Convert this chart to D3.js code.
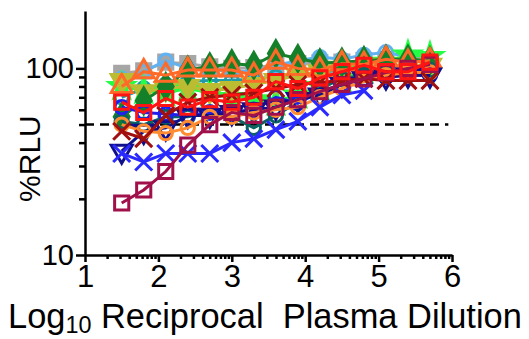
<!DOCTYPE html>
<html>
<head>
<meta charset="utf-8">
<script src="https://cdn.jsdelivr.net/npm/d3@7"></script>
<style>
  html, body { margin: 0; padding: 0; background: #fff; }
  svg { display: block; font-family: "Liberation Sans", Arial, Helvetica, sans-serif; }
</style>
</head>
<body>
<div id="chart"></div>
<script>
// log10 reciprocal plasma dilution (2-fold steps)
const logDilution = [1.5, 1.8, 2.1, 2.4, 2.7, 3.0, 3.3, 3.6, 3.9, 4.2, 4.5, 4.8, 5.1, 5.4, 5.7];

// %RLU per sample
const grayValues      = [94, 97, 108, 106, 102, 100, 101, 104, 106, 107, 108, 110, 112, 110, 108];
const lightBlueValues = [88, 96, 110, 100, 98, 97, 96, 104, 110, 115, 112, 118, 122, 115, 112];
const tealValues      = [70, 78, 82, 85, 86, 86, 88, 90, 92, 95, 98, 100, 102, 100, 104];
const greenValues     = [80, 76, 74, 78, 74, 70, 68, 66, 72, 80, 88, 98, 108, 118, 116];
const oliveValues     = [86, 75, 78, 80, 76, 78, 82, 86, 92, 96, 100, 100, 104, 104, 104];
const darkGreenValues = [55, 67, 80, 98, 102, 106, 104, 120, 113, 107, 108, 110, 112, 112, 110];
const orangeValues    = [80, 96, 92, 98, 98, 98, 92, 108, 100, 98, 106, 105, 112, 108, 110];
const darkTealValues  = [52, 50, 55, 55, 58, 55, 48, 56, 66, 78, 88, 92, 95, 95, 98];
const blueValues      = [62, 58, 57, 56, 58, 58, 60, 70, 65, 75, 82, 88, 90, 92, 92];
const navyValues      = [36, 46, 48, 56, 56, 58, 60, 62, 68, 72, 82, 88, 90, 92, 92];
const lightOrangeValues = [50, 46, 45, 48, 55, 55, 58, 60, 62, 70, 78, 85, 92, 95, 95];
const darkRedValues   = [46, 42, 56, 66, 70, 72, 74, 78, 82, 84, 86, 88, 86, 86, 86];
const blueXValues     = [35, 31.5, 35, 35, 35, 40, 42, 47, 52, 62, 72, 76];
const maroonValues    = [19, 22.3, 28, 38.8, 50, 58, 56, 62, 68, 75, 82, 88, 95, 100, 105];
const redValues       = [66, 58, 69, 62, 68, 66, 70, 85, 78, 89, 96, 104, 96, 96, 108];

const xTicks = [1, 2, 3, 4, 5, 6];
const yTicks = [10, 100];
const cutoff = 50;

const series = [
    { color: "#a6a6a6", marker: "square", filled: true, values: grayValues },
    { color: "#62b2f2", marker: "circle", filled: false, values: lightBlueValues },
    { color: "#1e9aaa", marker: "circle", filled: false, values: tealValues },
    { color: "#22ff44", marker: "star", filled: true, values: greenValues },
    { color: "#bcbc32", marker: "triDown", filled: true, values: oliveValues },
    { color: "#15802a", marker: "diamond", filled: true, values: darkGreenValues },
    { color: "#ff6a28", marker: "triUp", filled: false, values: orangeValues },
    { color: "#0b6262", marker: "circle", filled: false, values: darkTealValues },
    { color: "#2020ee", marker: "circle", filled: false, values: blueValues },
    { color: "#10108c", marker: "triDown", filled: false, values: navyValues },
    { color: "#ff8c30", marker: "circle", filled: false, values: lightOrangeValues },
    { color: "#a01010", marker: "x", filled: false, values: darkRedValues },
    { color: "#2a2aff", marker: "x", filled: false, values: blueXValues },
    { color: "#a0104a", marker: "square", filled: false, values: maroonValues },
    { color: "#ff1414", marker: "square", filled: false, values: redValues }
];

const width = 529, height = 339;
const margin = { top: 11, right: 77, bottom: 84, left: 85 };

const svg = d3.select("#chart").append("svg")
    .attr("width", width)
    .attr("height", height);

const x = d3.scaleLinear().domain([1, 6]).range([margin.left, width - margin.right]);
const y = d3.scaleLog().domain([10, 203]).range([height - margin.bottom, margin.top]);

// axes
const xMinor = [];
for (let d = 1; d < 6; d++) {
    for (let k = 2; k <= 9; k++) xMinor.push(d + Math.log10(k));
}
const yMinor = [20, 30, 40, 50, 60, 70, 80, 90];

const xAxisG = svg.append("g")
    .attr("transform", `translate(0,${y(10)})`);
xAxisG.call(d3.axisBottom(x).tickValues(xMinor).tickSize(4).tickFormat(""));
xAxisG.call(g => g.selectAll(".domain").remove());
const xMajor = svg.append("g")
    .attr("transform", `translate(0,${y(10)})`)
    .call(d3.axisBottom(x).tickValues(xTicks).tickSize(7).tickSizeOuter(0).tickPadding(3).tickFormat(d3.format("d")));

const yAxisG = svg.append("g")
    .attr("transform", `translate(${x(1)},0)`);
yAxisG.call(d3.axisLeft(y).tickValues(yMinor).tickSize(6).tickFormat(""));
yAxisG.call(g => g.selectAll(".domain").remove());
const yMajor = svg.append("g")
    .attr("transform", `translate(${x(1)},0)`)
    .call(d3.axisLeft(y).tickValues(yTicks).tickSize(9).tickSizeOuter(0).tickPadding(2).tickFormat(d3.format("d")));

svg.selectAll(".domain, .tick line")
    .attr("stroke", "#000")
    .attr("stroke-width", 2.5);
xMajor.selectAll("text").attr("font-size", 31).attr("fill", "#000");
yMajor.selectAll("text").attr("font-size", 29).attr("fill", "#000");

// 50% cutoff
svg.append("line")
    .attr("x1", x(1)).attr("x2", x(5.95))
    .attr("y1", y(cutoff)).attr("y2", y(cutoff))
    .attr("stroke", "#000")
    .attr("stroke-width", 2.5)
    .attr("stroke-dasharray", "9,6");

// series
const line = d3.line()
    .x((d, i) => x(logDilution[i]))
    .y(d => y(d));

const symbolFor = {
    square: d3.symbolSquare,
    circle: d3.symbolCircle,
    triUp: d3.symbolTriangle,
    triDown: d3.symbolTriangle,
    diamond: d3.symbolDiamond,
    star: d3.symbolStar,
    x: d3.symbolTimes
};

const sizeFor = { square: 200, circle: 140, triUp: 190, triDown: 190, diamond: 190, star: 180, x: 190 };

series.forEach(s => {
    const g = svg.append("g");
    g.append("path")
        .attr("d", line(s.values))
        .attr("fill", "none")
        .attr("stroke", s.color)
        .attr("stroke-width", 3);

    const sym = d3.symbol().type(symbolFor[s.marker]).size(sizeFor[s.marker]);
    g.selectAll("path.pt")
        .data(s.values)
        .join("path")
        .attr("class", "pt")
        .attr("transform", (d, i) => `translate(${x(logDilution[i])},${y(d)})` + (s.marker === "triDown" ? " rotate(180)" : ""))
        .attr("d", sym)
        .attr("fill", s.filled ? s.color : "none")
        .attr("stroke", s.color)
        .attr("stroke-width", 3);
});

// titles
svg.append("text")
    .attr("transform", `translate(40,${(y(10) + y(200)) / 2 + 25}) rotate(-90)`)
    .attr("text-anchor", "middle")
    .attr("font-size", 30)
    .text("%RLU");

const xt = svg.append("text")
    .attr("x", 8)
    .attr("y", 328)
    .attr("font-size", 28);
xt.append("tspan").text("Log");
xt.append("tspan").attr("class", "sub").attr("font-size", 19).attr("dy", 4).text("10");
xt.append("tspan").attr("class", "rest").attr("dy", -4).style("white-space", "pre").text(" Reciprocal  Plasma Dilution");

// scale title font so it spans the same width as the original
const targetWidth = 514;
const measured = xt.node().getComputedTextLength();
const k = targetWidth / measured;
xt.attr("font-size", 28 * k);
xt.select(".sub").attr("font-size", 19 * k).attr("dy", 4 * k);
xt.select(".rest").attr("dy", -4 * k);
</script>
</body>
</html>
